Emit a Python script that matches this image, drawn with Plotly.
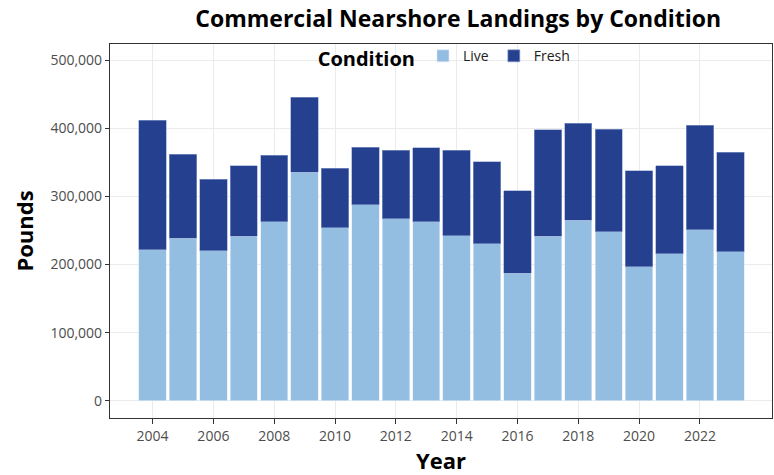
import plotly.graph_objects as go

years = list(range(2004, 2024))
total = [411500, 361700, 325000, 344600, 360700, 445700, 341200, 372400, 367500, 371500,
         368000, 350900, 308400, 397400, 407600, 398300, 337700, 345100, 404700, 365100]
live = [221900, 238500, 220400, 241400, 263000, 335300, 254200, 287400, 267400, 263000,
        242400, 230200, 187200, 241400, 264900, 248300, 197000, 216000, 251200, 218500]
fresh = [t - l for t, l in zip(total, live)]

tick_years = list(range(2004, 2024, 2))
y_ticks = [0, 100000, 200000, 300000, 400000, 500000]

FONT = "Open Sans"

fig = go.Figure()
fig.add_trace(go.Bar(x=years, y=live, name="Live", width=0.9,
                     marker=dict(color="#93bde1", line=dict(color="#dfe9f5", width=0.6))))
fig.add_trace(go.Bar(x=years, y=fresh, name="Fresh", width=0.9,
                     marker=dict(color="#25408e", line=dict(color="#8fa3cf", width=0.6))))

fig.update_layout(
    barmode="stack",
    width=774, height=475,
    margin=dict(l=110, r=2, t=44, b=57, autoexpand=False),
    paper_bgcolor="white", plot_bgcolor="white",
    font=dict(family=FONT, color="#4d4d4d", size=14),
    title=dict(text="<b>Commercial Nearshore Landings by Condition</b>",
               x=0.526, xref="paper", xanchor="center", y=1 - 19 / 475, yref="container",
               yanchor="middle",
               font=dict(family=FONT, size=23, color="black")),
    showlegend=True,
    legend=dict(orientation="h", x=0.507, xanchor="center", y=1.01, yanchor="top",
                bgcolor="rgba(0,0,0,0)",
                title=dict(text="<b>Condition</b>", font=dict(size=20, color="black")),
                font=dict(size=14, color="#222222"), itemwidth=30, traceorder="normal"),
    bargap=0.1,
)
fig.update_xaxes(
    range=[2002.6, 2024.37], tickvals=tick_years, ticktext=[str(y) for y in tick_years],
    showgrid=True, gridcolor="#ebebeb", gridwidth=1.2,
    showline=True, linecolor="#333333", linewidth=1.2, mirror=True,
    ticks="outside", ticklen=5, tickcolor="#333333",
    tickfont=dict(size=14, color="#4d4d4d"),
    title=dict(text="<b>Year</b>", font=dict(size=22, color="black"), standoff=4),
    zeroline=False, automargin=False,
)
fig.update_yaxes(
    range=[-25000, 523500], tickvals=y_ticks, tickformat=",",
    showgrid=True, gridcolor="#ebebeb", gridwidth=1.2,
    showline=True, linecolor="#333333", linewidth=1.2, mirror=True,
    ticks="outside", ticklen=4, tickcolor="#333333",
    tickfont=dict(size=14, color="#4d4d4d"),
    title=dict(text="<b>Pounds</b>", font=dict(size=22, color="black"), standoff=10),
    zeroline=False, automargin=False,
)

fig.write_html("out.html", config={"displayModeBar": False},
               post_script="document.body.style.margin='0px';")
